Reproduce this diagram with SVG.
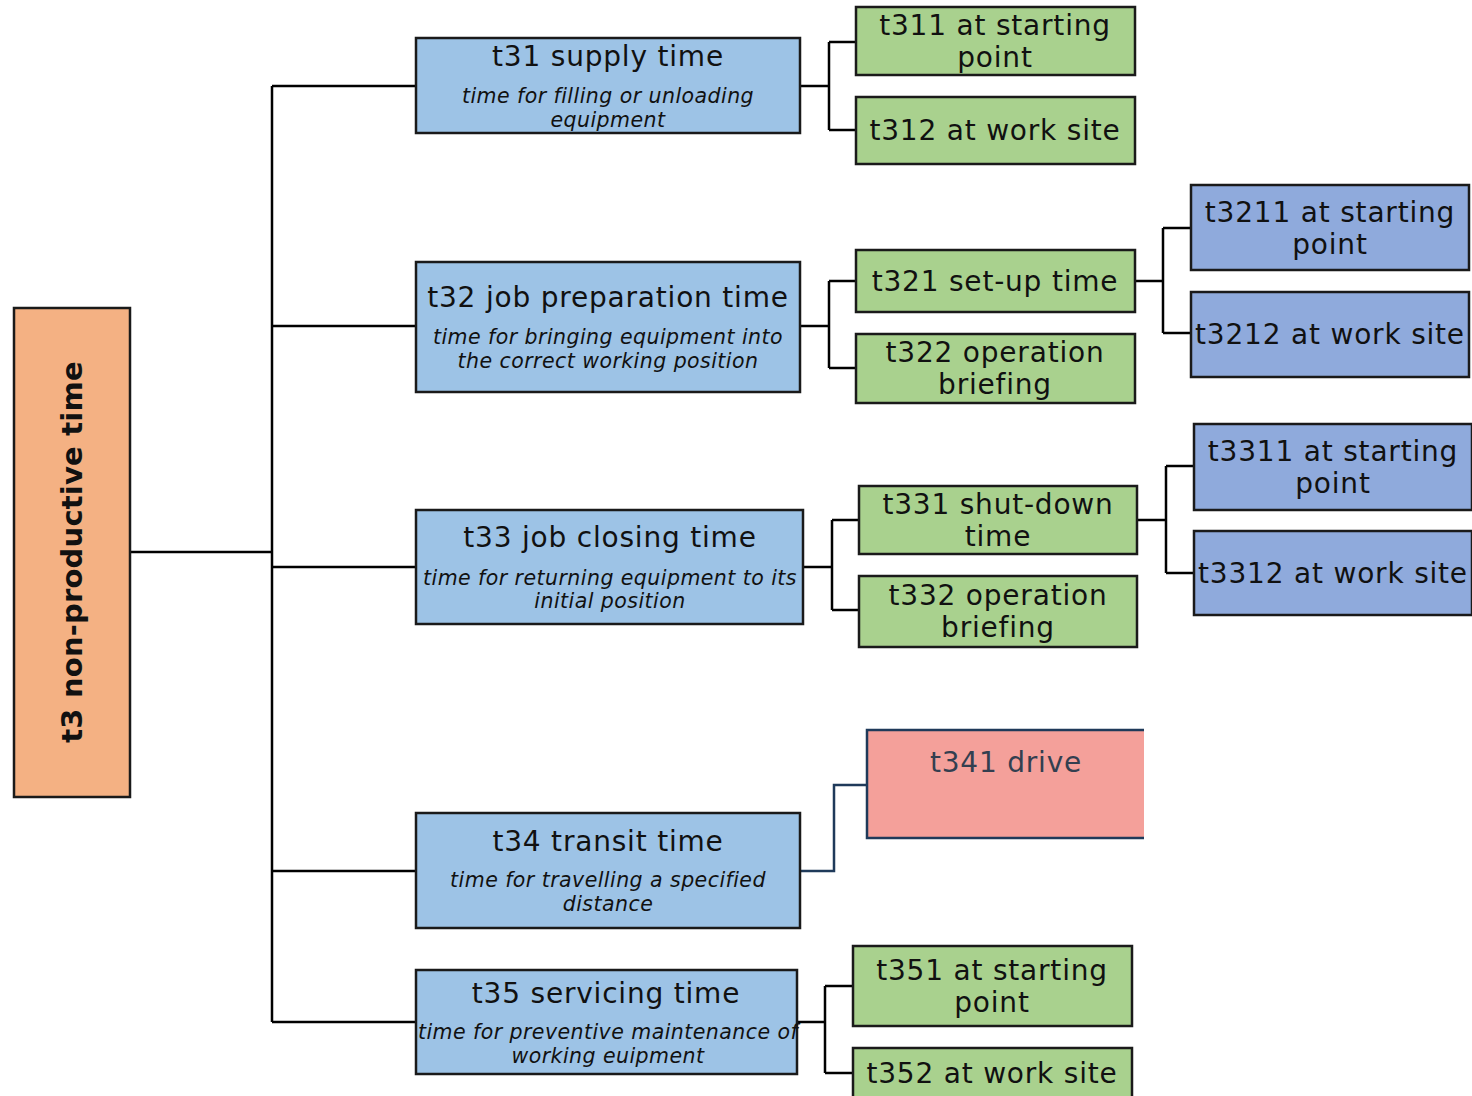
<svg xmlns="http://www.w3.org/2000/svg" width="1472" height="1096" viewBox="0 0 1472 1096">
<style>
text{font-family:"DejaVu Sans","Verdana",sans-serif;text-anchor:middle;fill:#111}
.t{font-size:28px;letter-spacing:0.8px}
.s{font-size:20.5px;font-style:italic;letter-spacing:0.45px}
.root{font-size:29px;font-weight:bold;letter-spacing:0.2px}
.box{stroke:#1a1a1a;stroke-width:2.5}
.b2{fill:#9DC3E6}
.g{fill:#A9D18E}
.b3{fill:#8FAADC}
.c{fill:none;stroke:#000;stroke-width:2.5}
</style>
<rect width="1472" height="1096" fill="#fff"/>
<g id="connectors">
<path class="c" d="M130 552H272M272 86V1022M272 86H416M272 326H416M272 567H416M272 871H416M272 1022H416"/>
<path class="c" d="M800 86H829M829 42V130M829 42H856M829 130H856"/>
<path class="c" d="M800 326H829M829 281V368M829 281H856M829 368H856"/>
<path class="c" d="M1135 281H1163M1163 228V333M1163 228H1191M1163 333H1191"/>
<path class="c" d="M803 567H832M832 520V610M832 520H859M832 610H859"/>
<path class="c" d="M1137 520H1166M1166 466V573M1166 466H1194M1166 573H1194"/>
<path d="M800 871H834V785H867" fill="none" stroke="#1F3A5A" stroke-width="2.5"/>
<path class="c" d="M797 1022H825M825 986V1073M825 986H853M825 1073H853"/>
</g>
<g id="t3">
<rect class="box" x="14" y="308" width="116" height="489" fill="#F4B183"/>
<text class="root" transform="translate(82 552) rotate(-90)">t3 non-productive time</text>
</g>
<g id="t31">
<rect class="box b2" x="416" y="38" width="384" height="95"/>
<text class="t" x="608" y="66">t31 supply time</text>
<text class="s" x="608" y="103">time for filling or unloading</text>
<text class="s" x="608" y="127">equipment</text>
</g>
<g id="t311">
<rect class="box g" x="856" y="7" width="279" height="68"/>
<text class="t" x="995" y="35">t311 at starting</text>
<text class="t" x="995" y="67">point</text>
</g>
<g id="t312">
<rect class="box g" x="856" y="97" width="279" height="67"/>
<text class="t" x="995" y="140">t312 at work site</text>
</g>
<g id="t32">
<rect class="box b2" x="416" y="262" width="384" height="130"/>
<text class="t" x="608" y="307">t32 job preparation time</text>
<text class="s" x="608" y="344">time for bringing equipment into</text>
<text class="s" x="608" y="368">the correct working position</text>
</g>
<g id="t321">
<rect class="box g" x="856" y="250" width="279" height="62"/>
<text class="t" x="995" y="291">t321 set-up time</text>
</g>
<g id="t322">
<rect class="box g" x="856" y="334" width="279" height="69"/>
<text class="t" x="995" y="362">t322 operation</text>
<text class="t" x="995" y="394">briefing</text>
</g>
<g id="t3211">
<rect class="box b3" x="1191" y="185" width="278" height="85"/>
<text class="t" x="1330" y="222">t3211 at starting</text>
<text class="t" x="1330" y="254">point</text>
</g>
<g id="t3212">
<rect class="box b3" x="1191" y="292" width="278" height="85"/>
<text class="t" x="1330" y="344">t3212 at work site</text>
</g>
<g id="t33">
<rect class="box b2" x="416" y="510" width="387" height="114"/>
<text class="t" x="610" y="547">t33 job closing time</text>
<text class="s" x="610" y="585">time for returning equipment to its</text>
<text class="s" x="610" y="608">initial position</text>
</g>
<g id="t331">
<rect class="box g" x="859" y="486" width="278" height="68"/>
<text class="t" x="998" y="514">t331 shut-down</text>
<text class="t" x="998" y="546">time</text>
</g>
<g id="t332">
<rect class="box g" x="859" y="576" width="278" height="71"/>
<text class="t" x="998" y="605">t332 operation</text>
<text class="t" x="998" y="637">briefing</text>
</g>
<g id="t3311">
<rect class="box b3" x="1194" y="424" width="278" height="86"/>
<text class="t" x="1333" y="461">t3311 at starting</text>
<text class="t" x="1333" y="493">point</text>
</g>
<g id="t3312">
<rect class="box b3" x="1194" y="531" width="278" height="84"/>
<text class="t" x="1333" y="583">t3312 at work site</text>
</g>
<g id="t34">
<rect class="box b2" x="416" y="813" width="384" height="115"/>
<text class="t" x="608" y="851">t34 transit time</text>
<text class="s" x="608" y="887">time for travelling a specified</text>
<text class="s" x="608" y="911">distance</text>
</g>
<g id="t341">
<rect x="867" y="730" width="277" height="108" fill="#F4A09A"/>
<path d="M1144 730H867V838H1144" fill="none" stroke="#1F3A5A" stroke-width="2.5"/>
<text class="t" x="1006" y="772" style="fill:#333F50">t341 drive</text>
</g>
<g id="t35">
<rect class="box b2" x="416" y="970" width="381" height="104"/>
<text class="t" x="606" y="1003">t35 servicing time</text>
<text class="s" x="608" y="1039">time for preventive maintenance of</text>
<text class="s" x="608" y="1063">working euipment</text>
</g>
<g id="t351">
<rect class="box g" x="853" y="946" width="279" height="80"/>
<text class="t" x="992" y="980">t351 at starting</text>
<text class="t" x="992" y="1012">point</text>
</g>
<g id="t352">
<rect class="box g" x="853" y="1048" width="279" height="60"/>
<text class="t" x="992" y="1083">t352 at work site</text>
</g>
</svg>
